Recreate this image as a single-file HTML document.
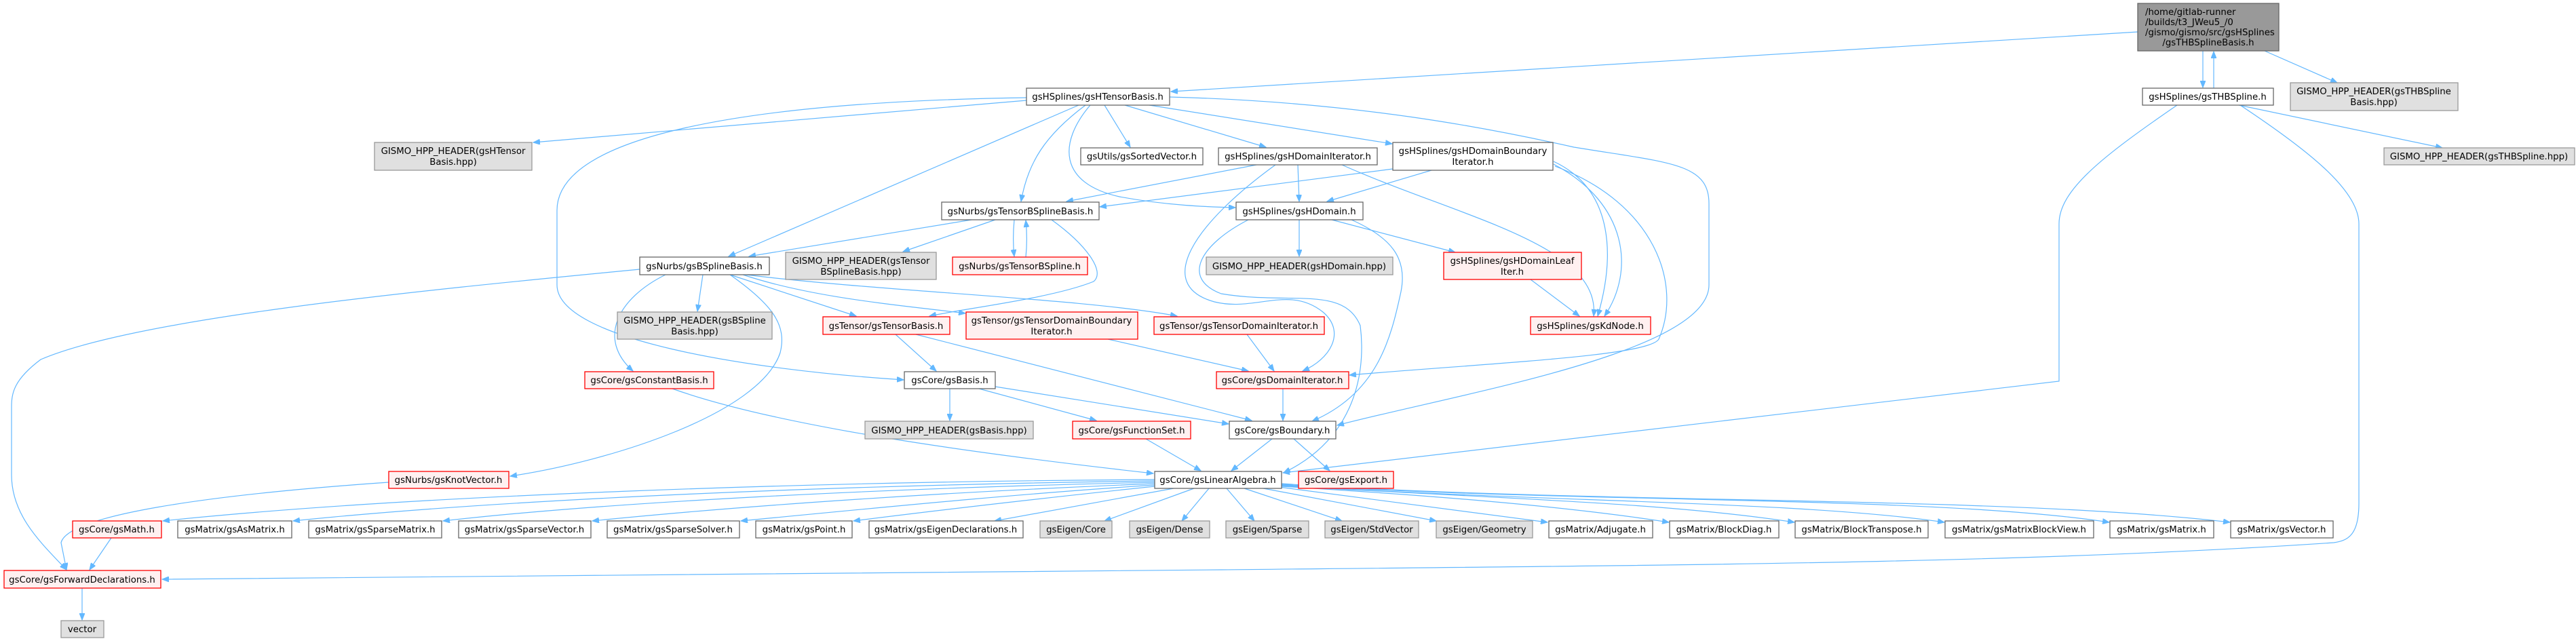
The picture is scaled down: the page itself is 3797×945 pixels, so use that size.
<!DOCTYPE html>
<html><head><meta charset="utf-8">
<style>
html,body{margin:0;padding:0;background:#fff;}
svg{display:block;}
text{font-family:"DejaVu Sans","Liberation Sans",sans-serif;font-size:13.3px;fill:#000;}
.e{fill:none;stroke:#63b8ff;stroke-width:1.2;}
.w{fill:#fff;stroke:#666;stroke-width:1.3;}
.r{fill:#fff0f0;stroke:#ff0000;stroke-width:1.3;}
.g{fill:#e0e0e0;stroke:#999;stroke-width:1.3;}
.m{fill:#999;stroke:#666;stroke-width:1.3;}
</style></head><body>
<svg width="3797" height="945" viewBox="0 0 3797 945" xmlns="http://www.w3.org/2000/svg">
<defs>
<marker id="a" markerWidth="11" markerHeight="8" refX="10" refY="4" orient="auto" markerUnits="userSpaceOnUse">
<path d="M0,0 L10,4 L0,8 Z" fill="#63b8ff" stroke="#63b8ff"/>
</marker>
</defs>
<g class="edges">
<!-- main -->
<path class="e" marker-end="url(#a)" d="M3151,47 L1726,135"/>
<path class="e" marker-end="url(#a)" d="M3247,75 L3247,129"/>
<path class="e" marker-end="url(#a)" d="M3338,75 L3445,122"/>
<path class="e" marker-end="url(#a)" d="M3263,130 L3263,76"/>
<!-- gsTHBSpline -->
<path class="e" marker-end="url(#a)" d="M3300,155 L3600,218"/>
<path class="e" marker-end="url(#a)" d="M3209,155 C3100,230 3035,280 3035,330 L3035,562 L1891,697"/>
<path class="e" marker-end="url(#a)" d="M3302,155 C3400,220 3477,280 3477,330 L3477,742 C3477,790 3460,797 3440,800 C3000,830 2500,833 1800,840 L239,854"/>
<!-- gsHTensorBasis -->
<path class="e" marker-end="url(#a)" d="M1513,148 L786,210"/>
<path class="e" marker-end="url(#a)" d="M1513,144 C1100,150 821,200 821,310 L821,420 C821,500 1100,545 1332,560"/>
<path class="e" marker-end="url(#a)" d="M1590,155 L1074,378"/>
<path class="e" marker-end="url(#a)" d="M1600,155 C1540,200 1515,240 1505,297"/>
<path class="e" marker-end="url(#a)" d="M1607,155 C1560,210 1560,270 1650,290 C1720,303 1780,305 1821,306"/>
<path class="e" marker-end="url(#a)" d="M1628,155 L1666,217"/>
<path class="e" marker-end="url(#a)" d="M1658,155 L1866,217"/>
<path class="e" marker-end="url(#a)" d="M1694,155 L2052,212"/>
<path class="e" marker-end="url(#a)" d="M1724,143 C2000,150 2200,190 2320,217 C2460,240 2519,240 2519,300 L2519,420 C2519,520 2150,580 1971,627"/>
<!-- gsBSplineBasis -->
<path class="e" marker-end="url(#a)" d="M943,397 C600,430 200,470 60,530 C20,560 17,580 17,600 L17,700 C17,760 60,800 98,840"/>
<path class="e" marker-end="url(#a)" d="M1036,405 L1028,459"/>
<path class="e" marker-end="url(#a)" d="M981,405 C910,440 880,500 933,547"/>
<path class="e" marker-end="url(#a)" d="M1076,405 C1140,450 1160,480 1150,520 C1120,610 900,680 752,702"/>
<path class="e" marker-end="url(#a)" d="M1076,405 L1262,466"/>
<path class="e" marker-end="url(#a)" d="M1095,405 C1200,440 1330,450 1423,462"/>
<path class="e" marker-end="url(#a)" d="M1100,405 C1300,430 1600,440 1735,466"/>
<!-- gsTensorBSplineBasis -->
<path class="e" marker-end="url(#a)" d="M1432,324 L1104,378"/>
<path class="e" marker-end="url(#a)" d="M1467,324 L1331,371"/>
<path class="e" marker-end="url(#a)" d="M1495,324 C1493,345 1493,360 1495,378"/>
<path class="e" marker-end="url(#a)" d="M1512,379 C1514,360 1514,345 1512,325"/>
<path class="e" marker-end="url(#a)" d="M1550,324 C1600,360 1630,400 1612,415 C1550,440 1420,455 1370,466"/>
<!-- gsHDomainIterator -->
<path class="e" marker-end="url(#a)" d="M1852,243 L1572,297"/>
<path class="e" marker-end="url(#a)" d="M1913,243 L1915,297"/>
<path class="e" marker-end="url(#a)" d="M1978,243 C2150,320 2360,360 2349,466"/>
<path class="e" marker-end="url(#a)" d="M1880,243 C1760,330 1700,420 1790,445 C1850,460 1900,420 1950,460 C1985,490 1960,530 1920,547"/>
<!-- gsHDomainBoundaryIterator -->
<path class="e" marker-end="url(#a)" d="M2053,249 L1621,305"/>
<path class="e" marker-end="url(#a)" d="M2110,251 L1956,297"/>
<path class="e" marker-end="url(#a)" d="M2290,238 C2380,280 2380,380 2355,466"/>
<path class="e" marker-end="url(#a)" d="M2290,242 C2400,300 2410,400 2365,466"/>
<path class="e" marker-end="url(#a)" d="M2292,245 C2440,300 2480,420 2445,500 C2430,525 2200,535 1989,553"/>
<!-- gsHDomain -->
<path class="e" marker-end="url(#a)" d="M1915,324 L1915,378"/>
<path class="e" marker-end="url(#a)" d="M1963,324 L2145,372"/>
<path class="e" marker-end="url(#a)" d="M1840,324 C1770,360 1740,410 1800,433 C1900,450 1980,420 2005,480 C2015,560 1990,650 1892,697"/>
<path class="e" marker-end="url(#a)" d="M1992,324 C2050,350 2075,380 2065,430 C2050,500 2030,580 1934,621"/>
<path class="e" marker-end="url(#a)" d="M2256,412 L2328,466"/>
<!-- tensor stuff -->
<path class="e" marker-end="url(#a)" d="M1320,493 L1380,547"/>
<path class="e" marker-end="url(#a)" d="M1350,493 L1845,620"/>
<path class="e" marker-end="url(#a)" d="M1633,500 L1840,547"/>
<path class="e" marker-end="url(#a)" d="M1838,493 L1878,547"/>
<path class="e" marker-end="url(#a)" d="M1891,573 L1891,620"/>
<path class="e" marker-end="url(#a)" d="M1400,573 L1400,620"/>
<path class="e" marker-end="url(#a)" d="M1443,573 L1616,620"/>
<path class="e" marker-end="url(#a)" d="M1467,570 L1811,625"/>
<path class="e" marker-end="url(#a)" d="M991,573 C1150,630 1450,670 1700,698"/>
<path class="e" marker-end="url(#a)" d="M1689,647 L1770,694"/>
<path class="e" marker-end="url(#a)" d="M1875,647 L1815,694"/>
<path class="e" marker-end="url(#a)" d="M1907,647 L1960,694"/>
<path class="e" marker-end="url(#a)" d="M573,711 C300,730 100,760 90,800 L98,840"/>
<path class="e" marker-end="url(#a)" d="M164,793 L132,840"/>
<path class="e" marker-end="url(#a)" d="M121,867 L121,914"/>
<!-- gsLinearAlgebra fan -->
<path class="e" marker-end="url(#a)" d="M1702,707 C1200,710 600,730 240,768"/>
<path class="e" marker-end="url(#a)" d="M1702,709 C1250,715 750,735 432,768"/>
<path class="e" marker-end="url(#a)" d="M1702,711 C1300,720 900,740 653,768"/>
<path class="e" marker-end="url(#a)" d="M1702,713 C1400,725 1100,745 873,768"/>
<path class="e" marker-end="url(#a)" d="M1702,715 C1500,728 1300,748 1092,768"/>
<path class="e" marker-end="url(#a)" d="M1702,717 C1550,733 1400,750 1258,768"/>
<path class="e" marker-end="url(#a)" d="M1730,720 L1466,768"/>
<path class="e" marker-end="url(#a)" d="M1760,720 L1628,768"/>
<path class="e" marker-end="url(#a)" d="M1782,720 L1742,768"/>
<path class="e" marker-end="url(#a)" d="M1808,720 L1849,768"/>
<path class="e" marker-end="url(#a)" d="M1834,720 L1978,768"/>
<path class="e" marker-end="url(#a)" d="M1862,720 L2117,768"/>
<path class="e" marker-end="url(#a)" d="M1885,718 L2281,770"/>
<path class="e" marker-end="url(#a)" d="M1889,717 C2100,730 2300,745 2460,770"/>
<path class="e" marker-end="url(#a)" d="M1889,716 C2200,735 2450,740 2645,770"/>
<path class="e" marker-end="url(#a)" d="M1889,715 C2250,740 2650,738 2866,770"/>
<path class="e" marker-end="url(#a)" d="M1889,714 C2300,742 2850,730 3109,770"/>
<path class="e" marker-end="url(#a)" d="M1889,713 C2350,744 2950,730 3287,770"/>
</g>
<g class="nodes">
<rect class="m" x="3151" y="5" width="208" height="70"/>
<text x="3162" y="22">/home/gitlab-runner</text>
<text x="3162" y="37">/builds/t3_JWeu5_/0</text>
<text x="3162" y="52">/gismo/gismo/src/gsHSplines</text>
<text x="3255" y="67" text-anchor="middle">/gsTHBSplineBasis.h</text>

<rect class="w" x="1513" y="130" width="211" height="25"/><text x="1618" y="147" text-anchor="middle">gsHSplines/gsHTensorBasis.h</text>
<rect class="w" x="3158" y="130" width="193" height="25"/><text x="3254" y="147" text-anchor="middle">gsHSplines/gsTHBSpline.h</text>
<rect class="g" x="3376" y="122" width="247" height="41"/><text x="3499" y="139" text-anchor="middle">GISMO_HPP_HEADER(gsTHBSpline</text><text x="3499" y="155" text-anchor="middle">Basis.hpp)</text>
<rect class="g" x="3514" y="218" width="281" height="25"/><text x="3654" y="235" text-anchor="middle">GISMO_HPP_HEADER(gsTHBSpline.hpp)</text>

<rect class="g" x="552" y="210" width="232" height="41"/><text x="668" y="227" text-anchor="middle">GISMO_HPP_HEADER(gsHTensor</text><text x="668" y="243" text-anchor="middle">Basis.hpp)</text>
<rect class="w" x="1593" y="218" width="180" height="25"/><text x="1683" y="235" text-anchor="middle">gsUtils/gsSortedVector.h</text>
<rect class="w" x="1796" y="218" width="234" height="25"/><text x="1913" y="235" text-anchor="middle">gsHSplines/gsHDomainIterator.h</text>
<rect class="w" x="2053" y="210" width="236" height="41"/><text x="2171" y="227" text-anchor="middle">gsHSplines/gsHDomainBoundary</text><text x="2171" y="243" text-anchor="middle">Iterator.h</text>

<rect class="w" x="1388" y="298" width="232" height="26"/><text x="1504" y="316" text-anchor="middle">gsNurbs/gsTensorBSplineBasis.h</text>
<rect class="w" x="1822" y="298" width="187" height="26"/><text x="1915" y="316" text-anchor="middle">gsHSplines/gsHDomain.h</text>

<rect class="w" x="943" y="379" width="191" height="26"/><text x="1038" y="397" text-anchor="middle">gsNurbs/gsBSplineBasis.h</text>
<rect class="g" x="1158" y="372" width="222" height="40"/><text x="1269" y="389" text-anchor="middle">GISMO_HPP_HEADER(gsTensor</text><text x="1269" y="405" text-anchor="middle">BSplineBasis.hpp)</text>
<rect class="r" x="1404" y="379" width="199" height="26"/><text x="1503" y="397" text-anchor="middle">gsNurbs/gsTensorBSpline.h</text>
<rect class="g" x="1778" y="379" width="275" height="26"/><text x="1915" y="397" text-anchor="middle">GISMO_HPP_HEADER(gsHDomain.hpp)</text>
<rect class="r" x="2128" y="372" width="203" height="40"/><text x="2229" y="389" text-anchor="middle">gsHSplines/gsHDomainLeaf</text><text x="2229" y="405" text-anchor="middle">Iter.h</text>

<rect class="g" x="910" y="460" width="228" height="40"/><text x="1024" y="477" text-anchor="middle">GISMO_HPP_HEADER(gsBSpline</text><text x="1024" y="493" text-anchor="middle">Basis.hpp)</text>
<rect class="r" x="1213" y="467" width="187" height="26"/><text x="1306" y="485" text-anchor="middle">gsTensor/gsTensorBasis.h</text>
<rect class="r" x="1424" y="460" width="253" height="40"/><text x="1550" y="477" text-anchor="middle">gsTensor/gsTensorDomainBoundary</text><text x="1550" y="493" text-anchor="middle">Iterator.h</text>
<rect class="r" x="1701" y="467" width="251" height="26"/><text x="1826" y="485" text-anchor="middle">gsTensor/gsTensorDomainIterator.h</text>
<rect class="r" x="2256" y="467" width="177" height="26"/><text x="2344" y="485" text-anchor="middle">gsHSplines/gsKdNode.h</text>

<rect class="r" x="862" y="548" width="190" height="25"/><text x="957" y="565" text-anchor="middle">gsCore/gsConstantBasis.h</text>
<rect class="w" x="1333" y="548" width="134" height="25"/><text x="1400" y="565" text-anchor="middle">gsCore/gsBasis.h</text>
<rect class="r" x="1793" y="548" width="195" height="25"/><text x="1890" y="565" text-anchor="middle">gsCore/gsDomainIterator.h</text>

<rect class="g" x="1275" y="621" width="248" height="26"/><text x="1399" y="639" text-anchor="middle">GISMO_HPP_HEADER(gsBasis.hpp)</text>
<rect class="r" x="1581" y="621" width="174" height="26"/><text x="1668" y="639" text-anchor="middle">gsCore/gsFunctionSet.h</text>
<rect class="w" x="1812" y="621" width="157" height="26"/><text x="1890" y="639" text-anchor="middle">gsCore/gsBoundary.h</text>

<rect class="r" x="573" y="695" width="177" height="25"/><text x="661" y="712" text-anchor="middle">gsNurbs/gsKnotVector.h</text>
<rect class="w" x="1702" y="695" width="187" height="25"/><text x="1795" y="712" text-anchor="middle">gsCore/gsLinearAlgebra.h</text>
<rect class="r" x="1914" y="695" width="140" height="25"/><text x="1984" y="712" text-anchor="middle">gsCore/gsExport.h</text>

<rect class="r" x="107" y="768" width="131" height="25"/><text x="172" y="785" text-anchor="middle">gsCore/gsMath.h</text>
<rect class="w" x="262" y="768" width="168" height="25"/><text x="346" y="785" text-anchor="middle">gsMatrix/gsAsMatrix.h</text>
<rect class="w" x="455" y="768" width="196" height="25"/><text x="553" y="785" text-anchor="middle">gsMatrix/gsSparseMatrix.h</text>
<rect class="w" x="676" y="768" width="195" height="25"/><text x="773" y="785" text-anchor="middle">gsMatrix/gsSparseVector.h</text>
<rect class="w" x="895" y="768" width="195" height="25"/><text x="992" y="785" text-anchor="middle">gsMatrix/gsSparseSolver.h</text>
<rect class="w" x="1114" y="768" width="142" height="25"/><text x="1185" y="785" text-anchor="middle">gsMatrix/gsPoint.h</text>
<rect class="w" x="1281" y="768" width="227" height="25"/><text x="1394" y="785" text-anchor="middle">gsMatrix/gsEigenDeclarations.h</text>
<rect class="g" x="1533" y="768" width="106" height="25"/><text x="1586" y="785" text-anchor="middle">gsEigen/Core</text>
<rect class="g" x="1665" y="768" width="118" height="25"/><text x="1724" y="785" text-anchor="middle">gsEigen/Dense</text>
<rect class="g" x="1807" y="768" width="122" height="25"/><text x="1868" y="785" text-anchor="middle">gsEigen/Sparse</text>
<rect class="g" x="1953" y="768" width="138" height="25"/><text x="2022" y="785" text-anchor="middle">gsEigen/StdVector</text>
<rect class="g" x="2117" y="768" width="142" height="25"/><text x="2188" y="785" text-anchor="middle">gsEigen/Geometry</text>
<rect class="w" x="2283" y="768" width="153" height="25"/><text x="2359" y="785" text-anchor="middle">gsMatrix/Adjugate.h</text>
<rect class="w" x="2461" y="768" width="161" height="25"/><text x="2541" y="785" text-anchor="middle">gsMatrix/BlockDiag.h</text>
<rect class="w" x="2646" y="768" width="196" height="25"/><text x="2744" y="785" text-anchor="middle">gsMatrix/BlockTranspose.h</text>
<rect class="w" x="2867" y="768" width="219" height="25"/><text x="2976" y="785" text-anchor="middle">gsMatrix/gsMatrixBlockView.h</text>
<rect class="w" x="3110" y="768" width="153" height="25"/><text x="3186" y="785" text-anchor="middle">gsMatrix/gsMatrix.h</text>
<rect class="w" x="3288" y="768" width="151" height="25"/><text x="3363" y="785" text-anchor="middle">gsMatrix/gsVector.h</text>

<rect class="r" x="6" y="841" width="231" height="26"/><text x="121" y="859" text-anchor="middle">gsCore/gsForwardDeclarations.h</text>
<rect class="g" x="90" y="915" width="63" height="25"/><text x="121" y="932" text-anchor="middle">vector</text>
</g>
</svg>
</body></html>
